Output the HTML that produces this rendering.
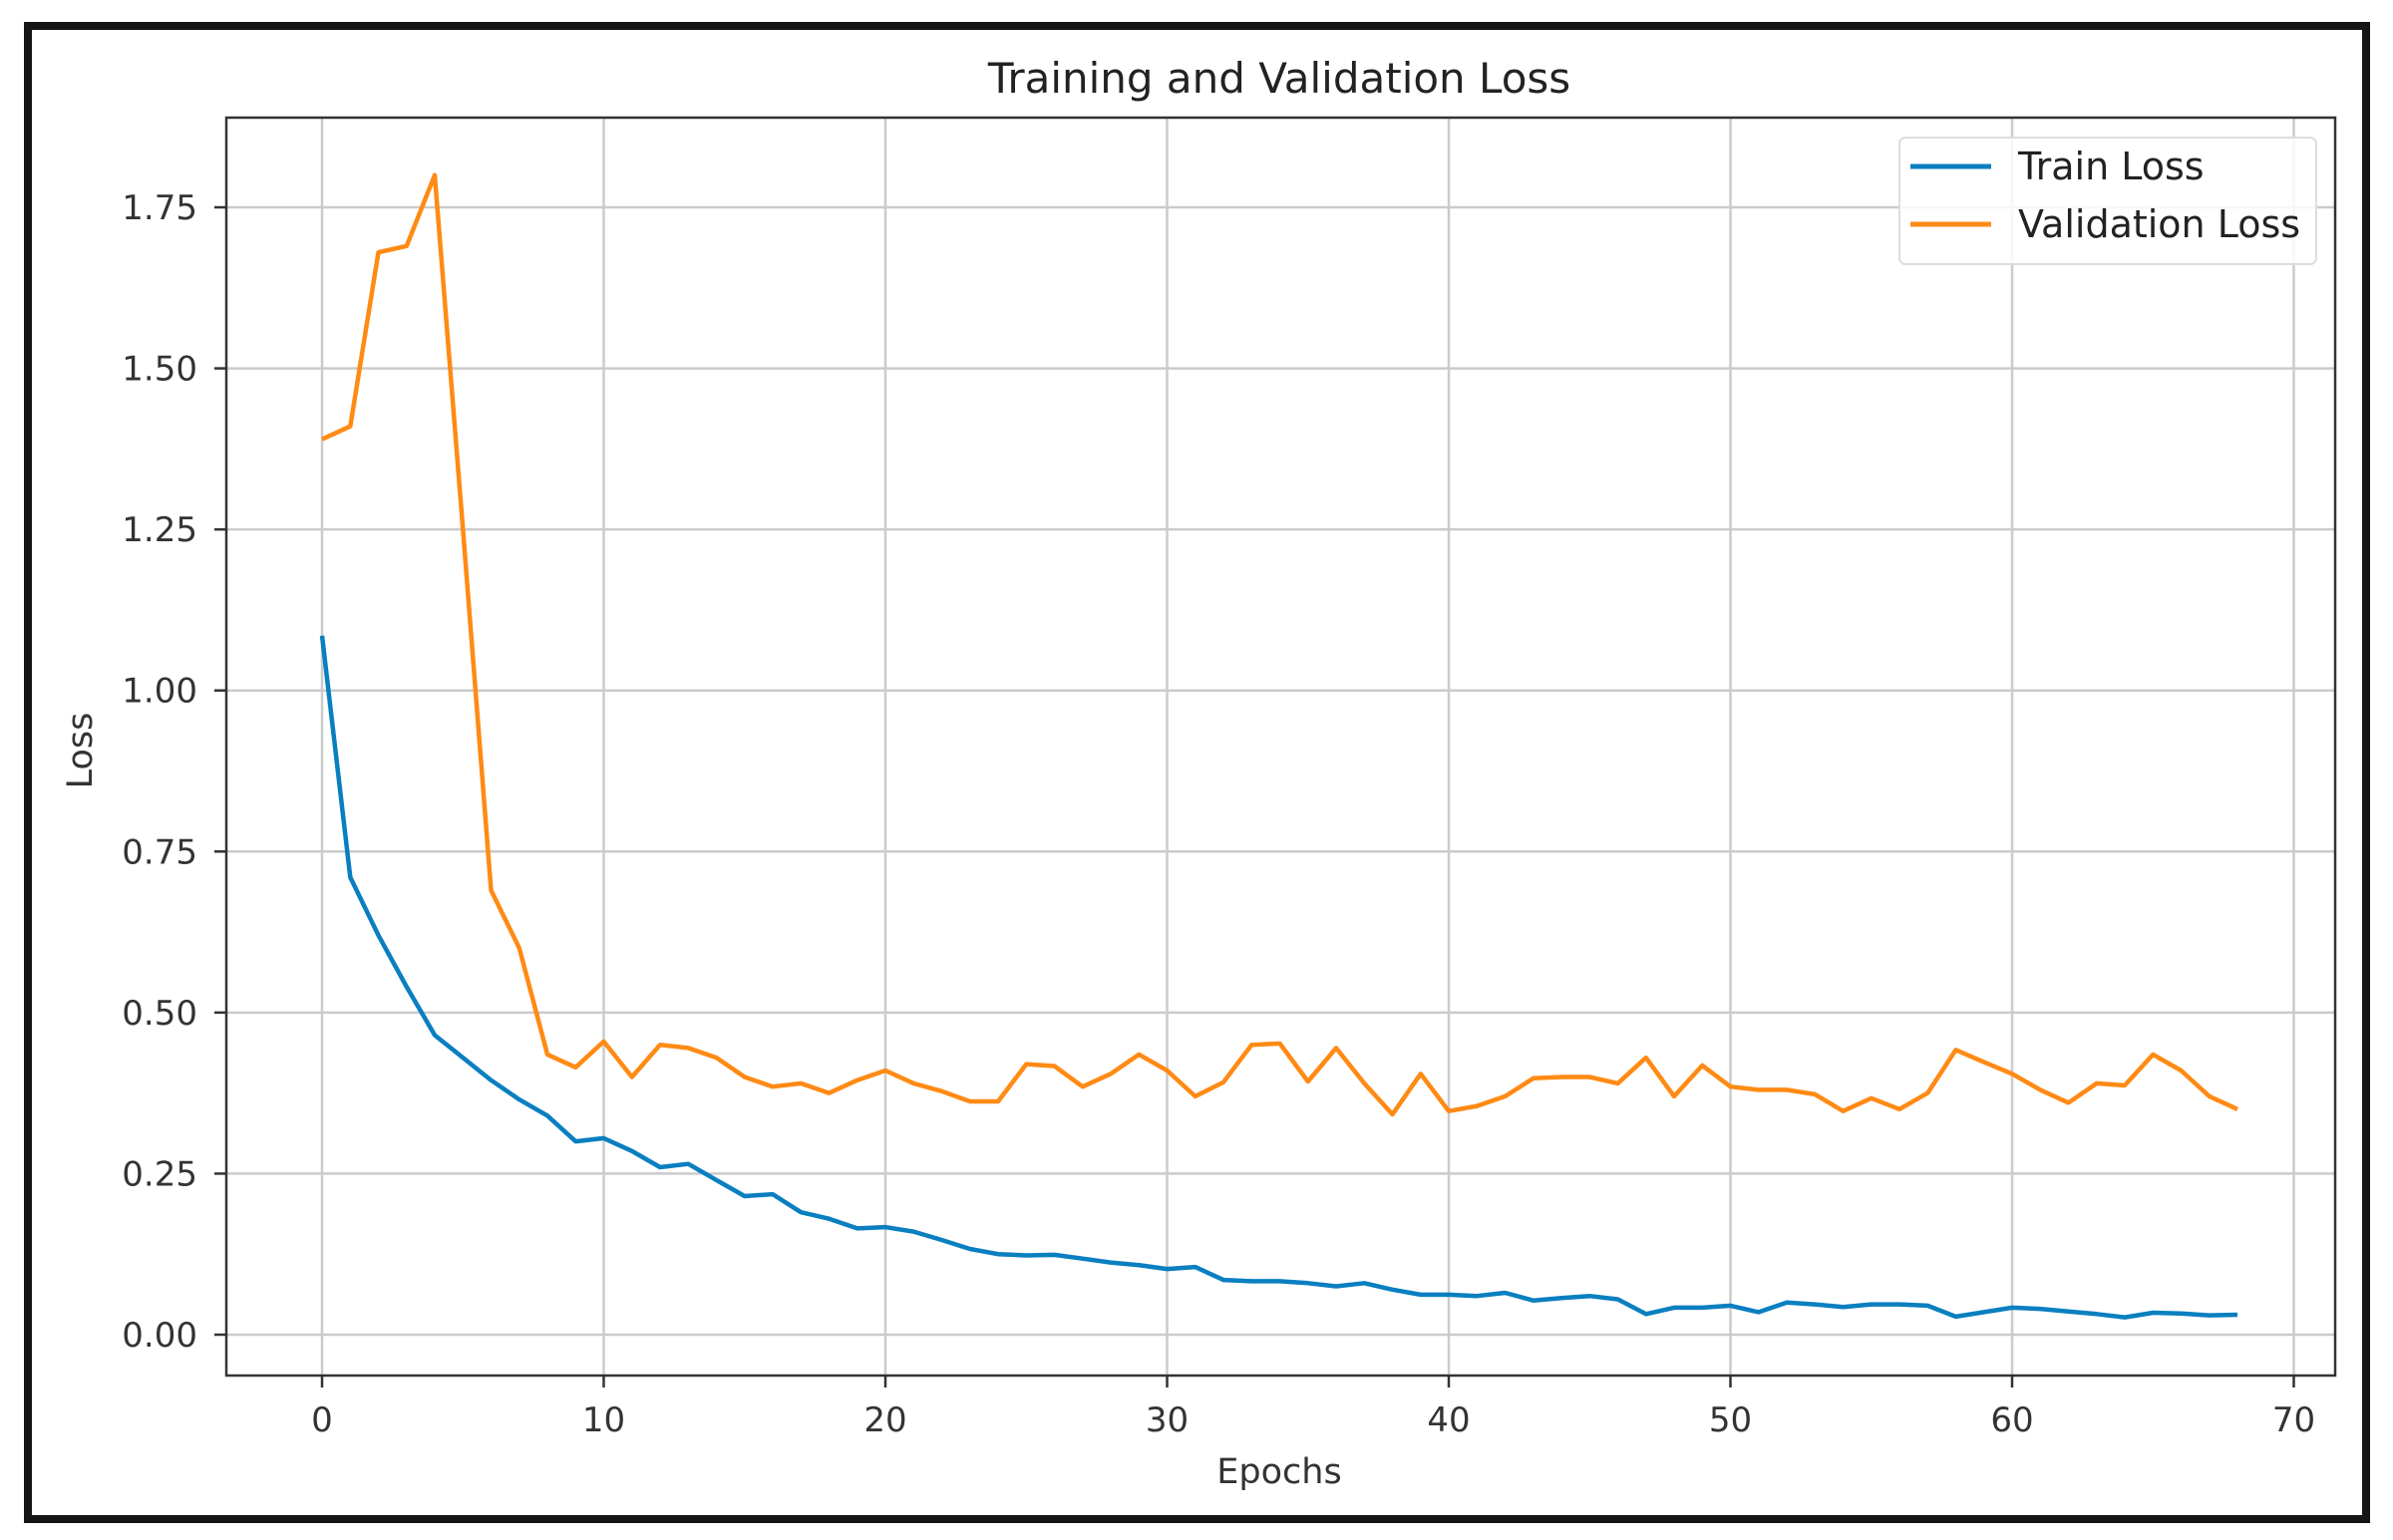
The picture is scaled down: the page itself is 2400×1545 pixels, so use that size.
<!DOCTYPE html>
<html><head><meta charset="utf-8"><style>
html,body{margin:0;padding:0;background:#fff;}
svg{display:block;font-family:"DejaVu Sans","Liberation Sans",sans-serif;}
</style></head><body>
<svg id="chart" width="2400" height="1545" viewBox="0 0 2400 1545" xmlns="http://www.w3.org/2000/svg">
<rect x="0" y="0" width="2400" height="1545" fill="#fff"/>
<rect x="28" y="26" width="2345" height="1498" fill="none" stroke="#151515" stroke-width="8"/>
<text x="1283" y="93" font-size="42" text-anchor="middle" fill="#222">Training and Validation Loss</text>
<g id="grid"></g>
<g id="series"></g>
<rect x="227" y="118" width="2115" height="1262" fill="none" stroke="#333" stroke-width="2.5"/>
<g id="ticks"></g>
<text x="1283" y="1488" font-size="35" text-anchor="middle" fill="#333">Epochs</text>
<text x="0" y="0" font-size="35" text-anchor="middle" fill="#333" transform="translate(92,753) rotate(-90)">Loss</text>
<g>
<rect x="1905" y="138" width="418" height="127" rx="6" fill="#fff" fill-opacity="0.85" stroke="#ddd" stroke-width="2"/>
<line x1="1916" y1="167" x2="1997" y2="167" stroke="#0a7fc0" stroke-width="5"/>
<text x="2024" y="180" font-size="38" fill="#222">Train Loss</text>
<line x1="1916" y1="225" x2="1997" y2="225" stroke="#ff8a14" stroke-width="5"/>
<text x="2024" y="238" font-size="38" fill="#222">Validation Loss</text>
</g>
</svg>
<script>
const epochs = Array.from({length:69},(_,i)=>i);
const trainLoss = [1.085,0.71,0.62,0.54,0.465,0.43,0.395,0.365,0.34,0.30,0.305,0.285,0.26,0.265,0.24,0.215,0.218,0.19,0.18,0.165,0.167,0.16,0.147,0.133,0.125,0.123,0.124,0.118,0.112,0.108,0.102,0.105,0.085,0.083,0.083,0.08,0.075,0.08,0.07,0.062,0.062,0.06,0.065,0.053,0.057,0.06,0.055,0.032,0.042,0.042,0.045,0.035,0.05,0.047,0.043,0.047,0.047,0.045,0.028,0.035,0.042,0.04,0.036,0.032,0.027,0.034,0.033,0.03,0.031];
const valLoss = [1.39,1.41,1.68,1.69,1.80,1.25,0.69,0.60,0.435,0.415,0.455,0.40,0.45,0.445,0.43,0.40,0.385,0.39,0.375,0.395,0.41,0.39,0.378,0.362,0.362,0.42,0.417,0.385,0.405,0.435,0.41,0.37,0.392,0.45,0.452,0.393,0.445,0.39,0.342,0.405,0.347,0.355,0.37,0.398,0.40,0.40,0.39,0.43,0.37,0.418,0.385,0.38,0.38,0.373,0.347,0.367,0.35,0.375,0.442,0.423,0.405,0.38,0.36,0.39,0.387,0.435,0.41,0.37,0.35];
const xTicks = [0,10,20,30,40,50,60,70];
const yTicks = [0,0.25,0.5,0.75,1.0,1.25,1.5,1.75];
const yTickLabels = ["0.00","0.25","0.50","0.75","1.00","1.25","1.50","1.75"];

const NS="http://www.w3.org/2000/svg";
const X0=323, XS=(2300.5-323)/70, Y0=1339, YS=(1339-208)/1.75;
function xs(v){return X0+v*XS;}
function ys(v){return Y0-v*YS;}
function mk(tag,attrs,parent){const e=document.createElementNS(NS,tag);for(const k in attrs)e.setAttribute(k,attrs[k]);parent.appendChild(e);return e;}
const grid=document.getElementById('grid'), ticks=document.getElementById('ticks'), series=document.getElementById('series');
xTicks.forEach(t=>{
  const x=xs(t);
  const g=mk('line',{x1:x,y1:118,x2:x,y2:1380,stroke:'#cbcbcb','stroke-width':2.5},grid);
  
  
  const tk=mk('line',{x1:x,y1:1380,x2:x,y2:1392,stroke:'#333','stroke-width':2.5},ticks);
  
  
  const lb=mk('text',{x:x,y:1436,'font-size':34,'text-anchor':'middle',fill:'#333'},ticks);
  lb.textContent=String(t);
  
  
});
yTicks.forEach((t,i)=>{
  const y=ys(t);
  const g=mk('line',{x1:227,y1:y,x2:2342,y2:y,stroke:'#cbcbcb','stroke-width':2.5},grid);
  
  
  const tk=mk('line',{x1:215,y1:y,x2:227,y2:y,stroke:'#333','stroke-width':2.5},ticks);
  
  
  const lb=mk('text',{x:198,y:y+12,'font-size':34,'text-anchor':'end',fill:'#333'},ticks);
  lb.textContent=yTickLabels[i];
  
  
});
function path(vals,color,name){
  const d=vals.map((v,i)=>(i?'L':'M')+xs(epochs[i]).toFixed(1)+','+ys(v).toFixed(1)).join(' ');
  const p=mk('path',{d:d,fill:'none',stroke:color,'stroke-width':4.5,'stroke-linejoin':'round'},series);
  
  
}
path(trainLoss,'#0a7fc0','train-loss-line');
path(valLoss,'#ff8a14','validation-loss-line');
</script>
</body></html>
